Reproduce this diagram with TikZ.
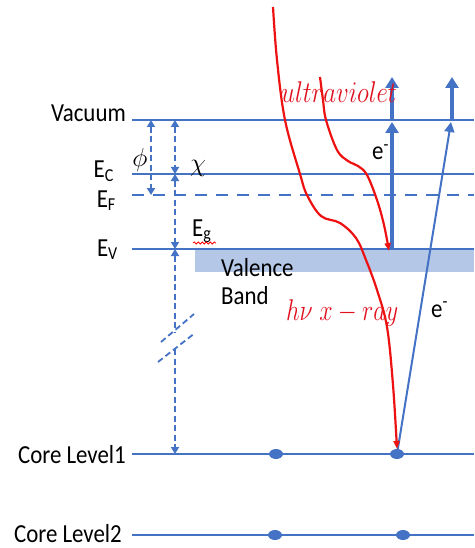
\RequirePackage{fix-cm}
\documentclass[tikz,border=0pt]{standalone}
\usepackage{fontspec}
\setmainfont{Carlito}[FakeStretch=0.88]
\usetikzlibrary{arrows.meta,decorations.pathmorphing}
\definecolor{lvl}{HTML}{4472C4}
\definecolor{vb}{HTML}{B4C7E7}
\definecolor{ray}{HTML}{EE1111}
\definecolor{raytxt}{HTML}{E0101E}
\begin{document}
\begin{tikzpicture}[x=1pt,y=-1pt,
  lev/.style={draw=lvl, line width=2.4pt},
  lbl/.style={font=\fontsize{26}{30}\selectfont, inner sep=0pt},
  mlbl/.style={font=\fontsize{26}{30}\selectfont, inner sep=0pt},
  rtxt/.style={font=\fontsize{30}{34}\selectfont, inner sep=0pt, text=raytxt},
  dimline/.style={draw=lvl, line width=1.8pt, dash pattern=on 6pt off 3.5pt},
  dtip/.style={{Triangle[length=7pt,width=8pt]}-{Triangle[length=7pt,width=8pt]}},
  rayline/.style={draw=ray, line width=2.2pt, -{Triangle[length=8pt,width=6pt]}},
  bigarrow/.style={draw=lvl, line width=4pt, -{Triangle[length=11pt,width=13pt]}},
  thinarrow/.style={draw=lvl, line width=2pt, -{Triangle[length=10pt,width=10pt]}},
  dot/.style={fill=lvl}
]
\useasboundingbox (0,0) rectangle (474,548);

% valence band
\fill[vb] (195,249) rectangle (474,272);

% level end points
\coordinate (vacL) at (132,120); \coordinate (vacR) at (474,120);
\coordinate (ecL) at (132,174);  \coordinate (ecR) at (474,174);
\coordinate (efL) at (132,195);  \coordinate (efR) at (474,195);
\coordinate (evL) at (132,249);  \coordinate (evR) at (474,249);
\coordinate (c1L) at (132,454);  \coordinate (c1R) at (474,454);
\coordinate (c2L) at (132,535);  \coordinate (c2R) at (474,535);

\draw[lev] (vacL) -- (vacR);
\draw[lev] (ecL) -- (ecR);
\draw[lev, dash pattern=on 12pt off 9pt] (efL) -- (efR);
\draw[lev] (evL) -- (evR);
\draw[lev] (c1L) -- (c1R);
\draw[lev] (c2L) -- (c2R);

% dimension arrows
\coordinate (phiT) at (151,120); \coordinate (phiB) at (151,195);
\coordinate (chiT) at (175,120); \coordinate (chiB) at (175,174);
\coordinate (egT) at (175,174);  \coordinate (egB) at (175,249);
\coordinate (dT) at (175,249);   \coordinate (dB) at (175,454);
\coordinate (brA) at (175,333);  \coordinate (brB) at (175,349);
\draw[dimline, dtip] (phiT) -- (phiB);
\draw[dimline, dtip] (chiT) -- (chiB);
\draw[dimline, dtip] (egT) -- (egB);
\draw[dimline, {Triangle[length=7pt,width=8pt]}-] (dT) -- (brA);
\draw[dimline, -{Triangle[length=7pt,width=8pt]}] (brB) -- (dB);
\coordinate (b1a) at (161,342); \coordinate (b1b) at (194,314);
\coordinate (b2a) at (158,362); \coordinate (b2b) at (195,333);
\draw[dimline] (b1a) -- (b1b);
\draw[dimline] (b2a) -- (b2b);

% electrons
\coordinate (evX) at (392,249); \coordinate (vacX) at (392,122);
\coordinate (vacX2) at (392,120); \coordinate (topX) at (392,77);
\draw[bigarrow] (evX) -- (vacX);
\draw[bigarrow] (vacX2) -- (topX);
\coordinate (cX) at (397,454); \coordinate (vacY) at (451,122);
\coordinate (vacY2) at (452,120); \coordinate (topY) at (452,77);
\draw[thinarrow] (cX) -- (vacY);
\draw[bigarrow] (vacY2) -- (topY);

% labels
\node[lbl, anchor=base east] (vac) at (126,122) {Vacuum};
\node[lbl, anchor=base east] (ec) at (114,178) {E\textsubscript{C}};
\node[lbl, anchor=base east] (ef) at (116,207) {E\textsubscript{F}};
\node[lbl, anchor=base east] (ev) at (118,256) {E\textsubscript{V}};
\node[lbl, anchor=base east] (cl1) at (126,463) {Core Level1};
\node[lbl, anchor=base east] (cl2) at (122,542) {Core Level2};
\node[lbl, anchor=base west] (val) at (221,276) {Valence};
\node[lbl, anchor=base west] (band) at (221,304) {Band};
\node[lbl, anchor=base west] (eg) at (192,236) {E\textsubscript{g}};
\draw[red, line width=0.8pt, decorate, decoration={snake, amplitude=1pt, segment length=4pt}] (193,243) -- (216,243);
\node[mlbl] (phi) at (140,160) {$\phi$};
\node[mlbl] (chi) at (198,168) {$\chi$};
\node[lbl, anchor=base west] (e1) at (372,160) {e\textsuperscript{-}};
\node[lbl, anchor=base west] (e2) at (431,317) {e\textsuperscript{-}};
\node[rtxt, anchor=base west] (uv) at (281,103) {\scalebox{0.83}[1]{$ultraviolet$}};
\node[rtxt, anchor=base west] (xr) at (286,320) {\scalebox{0.8}[1]{$h\nu\;x-ray$}};

% red rays
\draw[rayline] plot[smooth, tension=0.6] coordinates {(273,7) (277,60) (285,120) (300,174) (307,195) (321,216) (340,223) (356,238) (366,260) (377,290) (387,327) (393,385) (397,449)};
\draw[rayline] plot[smooth, tension=0.6] coordinates {(320,77) (323,100) (326,120) (337,150) (348,161) (358,166) (367,175) (377,200) (384,225) (389,251)};

% core electrons
\fill[dot] (276,454) ellipse [x radius=7pt, y radius=5pt];
\fill[dot] (397,454) ellipse [x radius=7pt, y radius=5pt];
\fill[dot] (275,535) ellipse [x radius=7pt, y radius=5pt];
\fill[dot] (403,535) ellipse [x radius=7pt, y radius=5pt];
\end{tikzpicture}
\end{document}
